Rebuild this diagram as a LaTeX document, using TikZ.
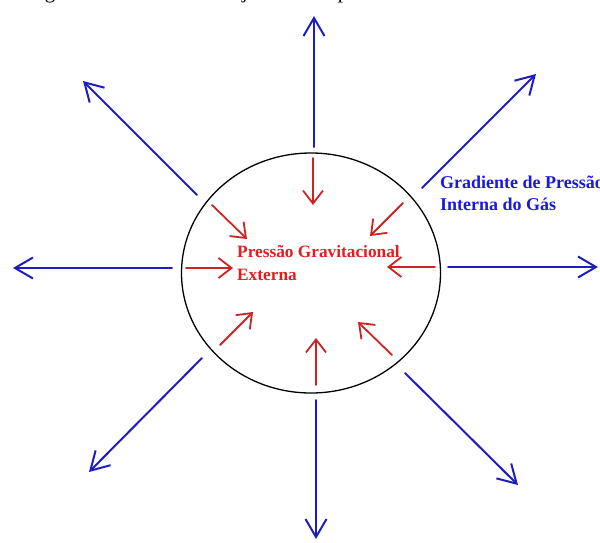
\documentclass[tikz,border=0pt]{standalone}
\usepackage{fontspec}
\setmainfont{Liberation Serif}
\usetikzlibrary{arrows.meta,shapes.geometric}
\definecolor{arrblue}{RGB}{30,30,190}
\definecolor{arrred}{RGB}{205,35,35}
\definecolor{txtblue}{RGB}{25,25,225}
\definecolor{txtred}{RGB}{225,30,30}
\tikzset{
  outarrow/.style={draw=arrblue, line width=2pt, line cap=round,
    -{Straight Barb[length=18pt,width=21pt,line width=2pt]}},
  inarrow/.style={draw=arrred, line width=1.8pt, line cap=round,
    -{Straight Barb[length=13pt,width=20pt,line width=1.8pt]}},
  bluelabel/.style={text=txtblue, font=\fontsize{18}{21.5}\selectfont\bfseries, align=left, inner sep=0pt, anchor=north west},
  redlabel/.style={text=txtred, font=\fontsize{17.3}{23}\selectfont\bfseries, align=left, inner sep=0pt, anchor=north west},
  captionglyph/.style={font=\fontsize{21}{21}\selectfont, inner sep=0pt, anchor=base}
}
\begin{document}
\begin{tikzpicture}[x=1pt,y=-1pt]
\useasboundingbox (0,0) rectangle (600,542);
\fill[white] (0,0) rectangle (600,542);
% clipped caption line (only descenders visible)
\begin{scope}
\clip (0,0) rectangle (600,542);
\node[captionglyph] (cg) at (50,-1.5) {g};
\node[captionglyph] (cj) at (245,-1.5) {j};
\node[captionglyph] (cp) at (343,-1.5) {p};
\end{scope}
% ellipse
\node[draw=black, line width=1.3pt, ellipse, minimum width=259pt, minimum height=240pt, inner sep=0pt] (star) at (311,273) {};
% outward blue arrows
\coordinate (bU1) at (314,147); \coordinate (bU2) at (314,16);
\coordinate (bD1) at (316,400); \coordinate (bD2) at (316,539);
\coordinate (bL1) at (172,268); \coordinate (bL2) at (13,268);
\coordinate (bR1) at (448,267); \coordinate (bR2) at (598,267);
\coordinate (bUL1) at (197,195); \coordinate (bUL2) at (83,81);
\coordinate (bUR1) at (422,188); \coordinate (bUR2) at (536,74);
\coordinate (bDL1) at (202,358); \coordinate (bDL2) at (89,472);
\coordinate (bDR1) at (405,373); \coordinate (bDR2) at (518,485);
\foreach \d in {U,D,L,R,UL,UR,DL,DR} \draw[outarrow] (b\d1) -- (b\d2);
% inward red arrows
\coordinate (rU1) at (313,158); \coordinate (rU2) at (313,205);
\coordinate (rD1) at (316,385); \coordinate (rD2) at (316,338);
\coordinate (rL1) at (186,268); \coordinate (rL2) at (233,268);
\coordinate (rR1) at (435,267); \coordinate (rR2) at (387,267);
\coordinate (rUL1) at (212,205); \coordinate (rUL2) at (247,239);
\coordinate (rUR1) at (403,203); \coordinate (rUR2) at (370,236);
\coordinate (rDL1) at (220,345); \coordinate (rDL2) at (253,312);
\coordinate (rDR1) at (392,355); \coordinate (rDR2) at (358,322);
\foreach \d in {U,D,L,R,UL,UR,DL,DR} \draw[inarrow] (r\d1) -- (r\d2);
% labels
\node[redlabel] (grav) at (237,245) {Pressão Gravitacional\\Externa};
\node[bluelabel] (gas) at (440,176) {Gradiente de Pressão\\Interna do Gás};
\end{tikzpicture}
\end{document}
